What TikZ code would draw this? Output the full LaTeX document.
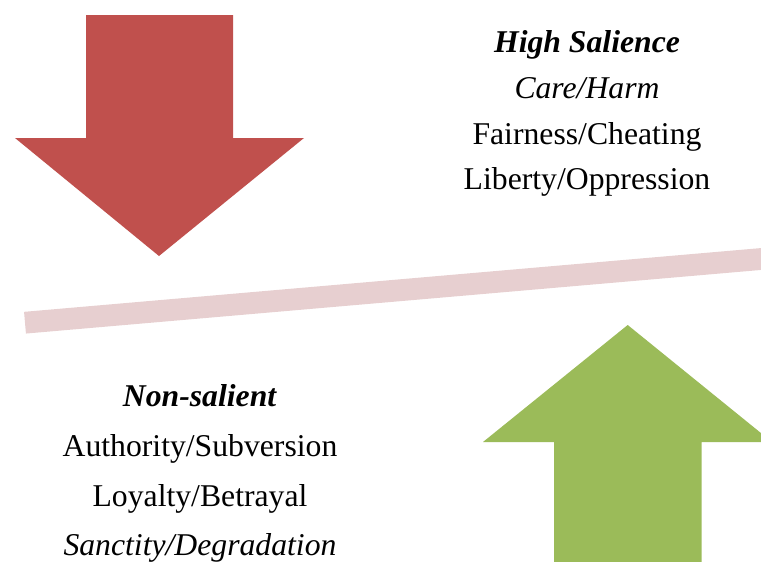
\documentclass[tikz,border=0pt]{standalone}
\usepackage{fontspec}
\setmainfont{Liberation Serif}
\usetikzlibrary{positioning}

\definecolor{downred}{HTML}{C0504D}
\definecolor{upgreen}{HTML}{9BBB59}
\definecolor{beam}{HTML}{E7CFD0}

\begin{document}
\begin{tikzpicture}[x=1pt, y=-1pt,
        label/.style={anchor=base, inner sep=0pt,
                      font=\fontsize{31.7}{38}\selectfont}]
        \useasboundingbox (0,0) rectangle (761,562);

        % the tilted beam
        \coordinate (bl) at (25,322.7);
        \coordinate (br) at (790,256.5);
        \draw[beam, line width=21.8, line cap=butt] (bl) -- (br);

        % down arrow, red
        \fill[downred] (86,15) -- (233,15) -- (233,138) -- (304,138)
              -- (159,256) -- (15,138) -- (86,138) -- cycle;

        % up arrow, green
        \fill[upgreen] (554,580) -- (554,442) -- (483,442) -- (627.7,325)
              -- (772,442) -- (701.7,442) -- (701.7,580) -- cycle;

        \node[label] (hi)   at (587,52)  {\textbf{\textit{High Salience}}};
        \node[label] (care) at (587,98)  {\textit{Care/Harm}};
        \node[label] (fair) at (587,144) {Fairness/Cheating};
        \node[label] (lib)  at (587,189.5) {Liberty/Oppression};

        \node[label] (non)  at (200,406) {\textbf{\textit{Non-salient}}};
        \node[label] (auth) at (200,456) {Authority/Subversion};
        \node[label] (loy)  at (200,506) {Loyalty/Betrayal};
        \node[label] (sanc) at (200,555) {\textit{Sanctity/Degradation}};
\end{tikzpicture}
\end{document}
